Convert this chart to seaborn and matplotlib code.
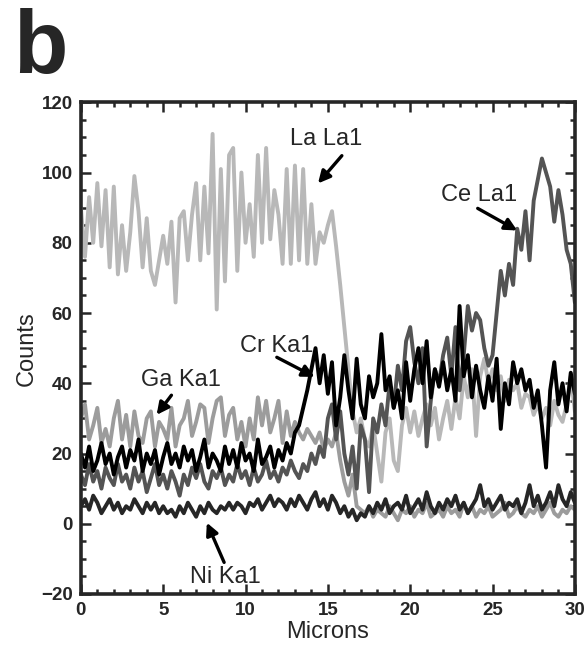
import numpy as np
import pandas as pd
import matplotlib
matplotlib.use("Agg")
import matplotlib.pyplot as plt
from matplotlib.ticker import MultipleLocator
import seaborn as sns

sns.set_style("ticks")
plt.rcParams['font.family'] = ['Liberation Sans', 'DejaVu Sans']

# scan positions (microns), one sample every 0.25 um
microns = np.linspace(0, 30, 121)

la_la1 = [90, 76, 93, 80,
          97, 79, 95, 73, 96,
          71, 85, 72, 83, 99, 89, 73, 87, 72, 68, 75, 82,
          74, 86, 63, 87, 89, 75, 88, 97, 75, 96, 77, 111,
          61, 101, 69, 105, 107, 72, 100, 80, 91, 76, 105, 80,
          107, 81, 95, 88, 74, 101, 74, 102, 75, 101, 74, 91,
          74, 83, 80, 85, 89, 79, 68, 56, 44, 32, 26, 30,
          24, 22, 28, 20, 12, 26, 30, 18, 15, 28, 33, 26,
          32, 25, 30, 34, 28, 33, 24, 30, 35, 27, 36, 30,
          42, 36, 44, 25, 42, 47, 40, 44, 38, 42, 35, 41,
          38, 40, 33, 37, 36, 31, 34, 30, 33, 28, 35, 31,
          29, 34, 42, 32]

ga_ka1 = [30, 34, 24, 28,
          33, 23, 27, 22, 30,
          35, 24, 31, 22, 32, 25, 23, 30, 32, 22, 29, 27,
          24, 33, 22, 28, 30, 35, 25, 29, 34, 33, 23, 30,
          35, 36, 25, 31, 33, 24, 29, 22, 30, 24, 36, 28,
          35, 26, 30, 35, 23, 32, 25, 29, 26, 24, 27, 25,
          23, 26, 21, 24, 22, 26, 18, 12, 8, 14, 5, 4,
          3, 5, 2, 4, 3, 2, 5, 3, 1, 4,
          3, 5, 2, 4, 3, 6, 2, 3, 4, 2,
          5, 3, 4, 2, 6, 3, 5, 2, 4, 3,
          5, 2, 3, 4, 6, 2, 3, 5, 3, 2,
          4, 3, 5, 2, 4, 6, 3, 2, 4, 3,
          5, 4]

ce_la1 = [14, 11, 17, 12,
          15, 10, 16, 13, 11,
          17, 12, 14, 10, 16, 12, 15, 9, 13, 17, 11, 14,
          10, 15, 12, 8, 14, 11, 16, 13, 17, 12, 10, 15,
          13, 16, 11, 14, 12, 17, 13, 15, 11, 16, 12, 14,
          18, 13, 15, 12, 16, 14, 18, 15, 13, 17, 15, 20,
          17, 22, 19, 30, 34, 24, 32, 20, 14, 22, 10, 28,
          24, 9, 30, 26, 34, 28, 40, 33, 45, 38, 52, 56,
          46, 40, 50, 22, 35, 44, 40, 48, 53, 42, 56, 38,
          48, 62, 55, 60, 58, 50, 45, 48, 60, 72, 65, 74,
          68, 84, 78, 89, 75, 92, 98, 104, 100, 96, 86, 95,
          88, 78, 74, 63]

cr_ka1 = [20, 16, 22, 15,
          18, 23, 17, 20, 14,
          19, 22, 16, 21, 18, 24, 15, 20, 17, 21, 14, 19,
          23, 17, 20, 16, 22, 18, 21, 15, 19, 24, 16, 20,
          18, 15, 22, 17, 21, 16, 23, 18, 20, 15, 24, 17,
          19, 22, 16, 21, 18, 23, 20, 26, 28, 33, 38, 44,
          50, 40, 48, 37, 46, 28, 36, 48, 38, 30, 47, 34,
          30, 42, 36, 40, 54, 38, 42, 33, 38, 30, 46, 35,
          44, 50, 40, 52, 36, 44, 39, 46, 38, 44, 35, 62,
          42, 48, 36, 45, 38, 33, 42, 35, 47, 27, 40, 34,
          46, 40, 44, 38, 41, 33, 38, 28, 16, 38, 46, 34,
          40, 32, 43, 37]

ni_ka1 = [5, 7, 4, 8,
          6, 3, 5, 7, 4,
          6, 3, 5, 4, 7, 5, 3, 6, 4, 6, 3, 5,
          3, 4, 2, 5, 3, 6, 4, 2, 5, 3, 6, 4,
          3, 5, 4, 6, 4, 6, 5, 3, 6, 5, 7, 4,
          6, 8, 5, 7, 6, 4, 7, 5, 8, 6, 4, 7,
          9, 5, 7, 4, 8, 6, 3, 5, 2, 4, 1, 3,
          2, 5, 3, 6, 4, 7, 3, 5, 6, 4, 8, 3,
          5, 7, 4, 9, 5, 3, 6, 4, 7, 5, 8, 4,
          6, 3, 5, 7, 11, 5, 7, 4, 6, 8, 4, 6,
          5, 7, 3, 6, 11, 5, 8, 4, 6, 9, 5, 11,
          7, 5, 9, 6]

series = [
    ("Ga Ka1", ga_ka1, "#9c9c9c"),
    ("La La1", la_la1, "#b8b8b8"),
    ("Ce La1", ce_la1, "#545454"),
    ("Cr Ka1", cr_ka1, "#000000"),
    ("Ni Ka1", ni_ka1, "#262626"),
]

fig = plt.figure(figsize=(5.86, 6.60), dpi=100)
ax = fig.add_axes([0.138, 0.1, 0.843, 0.745])

for name, vals, col in series:
    sns.lineplot(x=microns, y=vals, color=col, lw=2.8, ax=ax)

ax.set_xlim(0, 30)
ax.set_ylim(-20, 120)
ax.xaxis.set_major_locator(MultipleLocator(5))
ax.xaxis.set_minor_locator(MultipleLocator(1))
ax.yaxis.set_major_locator(MultipleLocator(20))
ax.yaxis.set_minor_locator(MultipleLocator(5))
ax.tick_params(which='both', direction='in', top=True, right=True, width=1.8)
ax.tick_params(which='major', length=7, labelsize=13.5, pad=6)
ax.tick_params(which='minor', length=3.5)
for lab in ax.get_xticklabels() + ax.get_yticklabels():
    lab.set_fontweight('bold')
for sp in ax.spines.values():
    sp.set_linewidth(2.6)

ax.set_xlabel("Microns", fontsize=17, labelpad=1)
ax.set_ylabel("Counts", fontsize=17, labelpad=2)

# labels with arrows
notes = [
    ("La La1", (14.9, 109.5), (15.85, 104.8), (14.4, 96.9)),
    ("Ce La1", (24.2, 93.5), (24.1, 89.8), (26.5, 83.5)),
    ("Cr Ka1", (11.9, 50.6), (11.9, 47.4), (14.2, 41.8)),
    ("Ga Ka1", (6.1, 40.9), (5.5, 36.6), (4.6, 31.0)),
    ("Ni Ka1", (8.8, -15.3), (8.7, -11.0), (7.65, 0.3)),
]
for txt, pos, tail, head in notes:
    ax.text(pos[0], pos[1], txt, fontsize=17, ha='center', va='center')
    ax.annotate('', xy=head, xytext=tail,
                arrowprops=dict(arrowstyle='-|>', lw=2.4, color='black',
                                mutation_scale=18, shrinkA=0, shrinkB=0))

fig.text(0.022, 0.89, 'b', fontsize=64, fontweight='bold', va='baseline')

fig.savefig('out.png', dpi=100)
plt.close(fig)
